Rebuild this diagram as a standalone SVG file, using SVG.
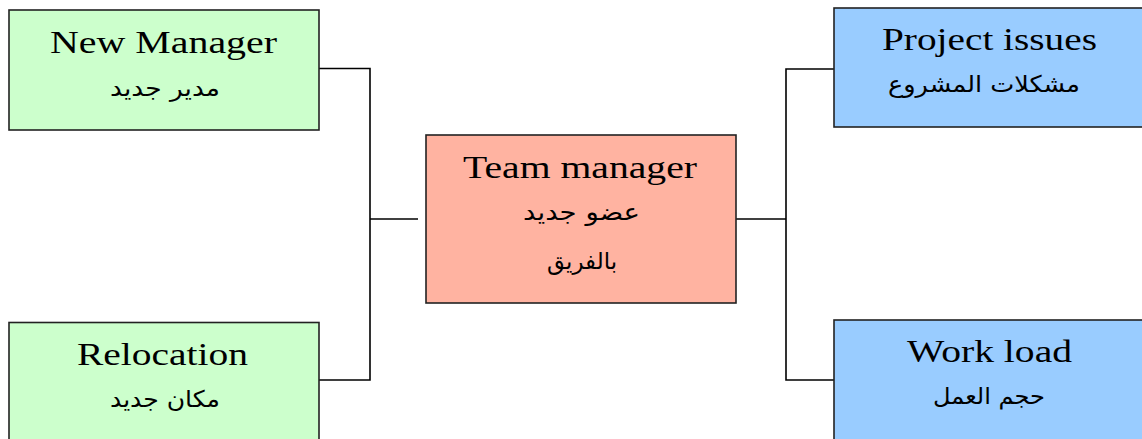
<svg xmlns="http://www.w3.org/2000/svg" width="1142" height="439" viewBox="0 0 1142 439">
  <style>
    .box { stroke: #222; stroke-width: 1.6; }
    .green { fill: #CCFFCC; }
    .red { fill: #FFB3A1; }
    .blue { fill: #99CCFF; }
    .en { font-family: "Liberation Serif", "Times New Roman", serif; font-size: 32px; fill: #000; }
    .ar { font-family: "DejaVu Sans", "Noto Sans", sans-serif; font-size: 23px; fill: #000; direction: rtl; }
    .conn { fill: none; stroke: #000; stroke-width: 1.6; }
  </style>
  <rect width="1142" height="439" fill="#fff"/>

  <g id="connectors">
    <polyline class="conn" points="319,68.5 370,68.5 370,380 319,380"/>
    <line class="conn" x1="370" y1="219" x2="418" y2="219"/>
    <line class="conn" x1="736" y1="219" x2="786" y2="219"/>
    <polyline class="conn" points="834,69 786,69 786,380 834,380"/>
  </g>

  <g id="new-manager">
    <rect class="box green" x="9" y="10" width="310" height="120"/>
    <text class="en" x="50" y="53" textLength="227" lengthAdjust="spacingAndGlyphs">New Manager</text>
    <text class="ar" x="220" y="96" textLength="110" lengthAdjust="spacingAndGlyphs">مدير جديد</text>
  </g>

  <g id="relocation">
    <rect class="box green" x="9" y="322.5" width="310" height="130"/>
    <text class="en" x="77" y="365" textLength="171" lengthAdjust="spacingAndGlyphs">Relocation</text>
    <text class="ar" x="220" y="407" textLength="110" lengthAdjust="spacingAndGlyphs">مكان جديد</text>
  </g>

  <g id="team-manager">
    <rect class="box red" x="426" y="135" width="310" height="168"/>
    <text class="en" x="463" y="178" textLength="234" lengthAdjust="spacingAndGlyphs">Team manager</text>
    <text class="ar" x="640" y="220" textLength="117" lengthAdjust="spacingAndGlyphs">عضو جديد</text>
    <text class="ar" x="617" y="269" textLength="70" lengthAdjust="spacingAndGlyphs">بالفريق</text>
  </g>

  <g id="project-issues">
    <rect class="box blue" x="834" y="8" width="312" height="119"/>
    <text class="en" x="882" y="50" textLength="215" lengthAdjust="spacingAndGlyphs">Project issues</text>
    <text class="ar" x="1080" y="92" textLength="192" lengthAdjust="spacingAndGlyphs">مشكلات المشروع</text>
  </g>

  <g id="work-load">
    <rect class="box blue" x="834" y="320" width="312" height="130"/>
    <text class="en" x="907" y="362" textLength="165" lengthAdjust="spacingAndGlyphs">Work load</text>
    <text class="ar" x="1045" y="404" textLength="112" lengthAdjust="spacingAndGlyphs">حجم العمل</text>
  </g>
</svg>
